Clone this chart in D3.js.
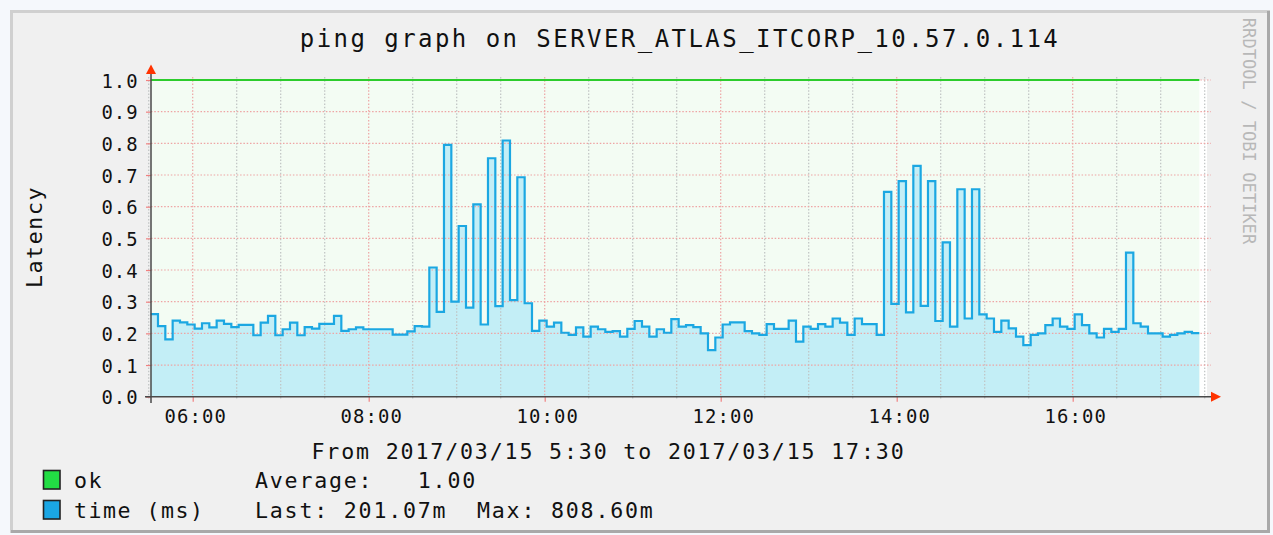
<!DOCTYPE html>
<html><head><meta charset="utf-8">
<script src="https://cdn.jsdelivr.net/npm/d3@7"></script>
<style>
html,body{margin:0;padding:0;background:#f5f8fc;}
svg{display:block;}
text{font-family:"DejaVu Sans Mono",monospace;fill:#111;white-space:pre;}
</style></head><body>
<svg id="c" width="1273" height="535"></svg>
<script>
// ---------- data ----------
const title = "ping graph on SERVER_ATLAS_ITCORP_10.57.0.114";
const xCaption = "From 2017/03/15 5:30 to 2017/03/15 17:30";
const yLabel = "Latency";
const watermark = "RRDTOOL / TOBI OETIKER";
const rangeStart = "2017-03-15T05:30:00";
const rangeEnd = "2017-03-15T17:30:00";
const dataStart = "2017-03-15T05:31:20";
const stepMinutes = 5;
const okValue = 1.0;
const timeValues = [
  0.261,0.223,0.181,0.240,0.235,0.228,0.215,0.232,0.219,0.240,
  0.230,0.220,0.227,0.227,0.194,0.234,0.255,0.194,0.213,0.234,
  0.194,0.220,0.215,0.230,0.230,0.255,0.208,0.213,0.219,0.213,
  0.213,0.213,0.213,0.196,0.196,0.206,0.223,0.221,0.408,0.268,
  0.795,0.300,0.539,0.281,0.607,0.228,0.753,0.286,0.809,0.305,
  0.693,0.295,0.208,0.240,0.221,0.234,0.202,0.195,0.219,0.190,
  0.221,0.213,0.205,0.207,0.190,0.214,0.239,0.221,0.190,0.213,
  0.202,0.245,0.221,0.226,0.220,0.200,0.147,0.187,0.228,0.235,
  0.235,0.207,0.200,0.195,0.229,0.214,0.214,0.240,0.174,0.221,
  0.214,0.229,0.221,0.247,0.234,0.195,0.247,0.229,0.229,0.195,
  0.647,0.293,0.681,0.266,0.729,0.287,0.681,0.239,0.487,0.221,
  0.655,0.247,0.655,0.260,0.247,0.205,0.240,0.216,0.190,0.163,
  0.195,0.200,0.226,0.247,0.221,0.214,0.260,0.226,0.200,0.187,
  0.214,0.205,0.214,0.455,0.232,0.221,0.200,0.200,0.190,0.195,
  0.200,0.205,0.201
];
const yTicks = [0.0,0.1,0.2,0.3,0.4,0.5,0.6,0.7,0.8,0.9,1.0];
const legendNames = ["ok", "time (ms)"];
const legendStats = ["Average:   1.00", "Last: 201.07m  Max: 808.60m"];
const legendColors = ["#22dd44", "#1aa6e4"];

// ---------- setup ----------
const parse = d3.timeParse("%Y-%m-%dT%H:%M:%S");
const t0 = parse(rangeStart), t1 = parse(rangeEnd), ds = parse(dataStart);
const svg = d3.select("#c");

const plotL = 151, plotR = 1207, plotT = 80, plotB = 396.7;
const x = d3.scaleTime().domain([t0, t1]).range([148.7, 1204.7]);
const y = d3.scaleLinear().domain([0, 1]).range([plotB, plotT]);

const series = timeValues.map((v, k) => ({t: d3.timeMinute.offset(ds, k * stepMinutes), v}));
series.push({t: d3.timeMinute.offset(ds, timeValues.length * stepMinutes), v: timeValues[timeValues.length - 1]});
const okSeries = series.map(d => ({t: d.t, v: okValue}));

// frame
svg.append("rect").attr("x", 11.5).attr("y", 11.5).attr("width", 1257).attr("height", 520)
  .attr("fill", "#f0f0f0").attr("stroke", "#d0d0d0").attr("stroke-width", 3);
svg.append("path").attr("d", "M1268.5,11 V531.5 H11").attr("fill", "none")
  .attr("stroke", "#a9a9a9").attr("stroke-width", 3);

// plot canvas
svg.append("rect").attr("x", plotL).attr("y", plotT).attr("width", plotR - plotL).attr("height", plotB - plotT)
  .attr("fill", "#ffffff");

// ok area
svg.append("path").datum(okSeries)
  .attr("d", d3.area().x(d => x(d.t)).y0(y(0)).y1(d => y(d.v)).curve(d3.curveStepAfter))
  .attr("fill", "#f3fcf3");

// time area
svg.append("path").datum(series)
  .attr("d", d3.area().x(d => x(d.t)).y0(y(0)).y1(d => y(d.v)).curve(d3.curveStepAfter))
  .attr("fill", "#c3eef6");

// grid
const minorTimes = x.ticks(d3.timeMinute.every(30)).filter(d => d.getHours() % 2 !== 0 || d.getMinutes() !== 0);
const majorTimes = x.ticks(d3.timeHour.every(2));
const grid = svg.append("g");
grid.selectAll(".vmin").data(minorTimes).join("line")
  .attr("x1", d => x(d)).attr("x2", d => x(d)).attr("y1", plotT - 3).attr("y2", plotB + 2.5)
  .attr("stroke", "#bfc3c3").attr("stroke-width", 1.2).attr("stroke-dasharray", "1.5,1.8");
grid.selectAll(".vmaj").data(majorTimes).join("line")
  .attr("x1", d => x(d)).attr("x2", d => x(d)).attr("y1", plotT - 3).attr("y2", plotB)
  .attr("stroke", "#eea4a4").attr("stroke-width", 1.2).attr("stroke-dasharray", "1.5,1.8");
grid.selectAll(".h").data(yTicks.filter(v => v > 0)).join("line")
  .attr("x1", plotL).attr("x2", 1211).attr("y1", d => y(d)).attr("y2", d => y(d))
  .attr("stroke", "#eea4a4").attr("stroke-width", 1.2).attr("stroke-dasharray", "1.5,1.8");

// series lines
svg.append("path").datum(okSeries)
  .attr("d", d3.line().x(d => x(d.t)).y(d => y(d.v)).curve(d3.curveStepAfter))
  .attr("fill", "none").attr("stroke", "#2ccc2c").attr("stroke-width", 2);
svg.append("path").datum(series)
  .attr("d", d3.line().x(d => x(d.t)).y(d => y(d.v)).curve(d3.curveStepAfter))
  .attr("fill", "none").attr("stroke", "#1ba7e2").attr("stroke-width", 2.2);

// axes
const xAxis = svg.append("g").attr("transform", `translate(0,${plotB})`)
  .call(d3.axisBottom(x).ticks(d3.timeHour.every(2)).tickFormat(d3.timeFormat("%H:%M")).tickSize(5));
xAxis.select(".domain").remove();
xAxis.selectAll(".tick line").attr("stroke", "#f08080").attr("stroke-width", 1.2);
xAxis.selectAll(".tick text").attr("y", 26.6).attr("dy", 0).attr("dx", 2.5)
  .style("font-family", "DejaVu Sans Mono").style("font-size", "18.9px").style("letter-spacing", "1.1px").attr("fill", "#111");

const yAxis = svg.append("g").attr("transform", `translate(${plotL},0)`)
  .call(d3.axisLeft(y).tickValues(yTicks).tickFormat(d3.format(".1f")).tickSize(5));
yAxis.select(".domain").remove();
yAxis.selectAll(".tick line").attr("stroke", "#f08080").attr("stroke-width", 1.2);
yAxis.selectAll(".tick text").attr("x", -12.2).attr("dy", 7)
  .style("font-family", "DejaVu Sans Mono").style("font-size", "18.9px").style("letter-spacing", "1.1px").attr("fill", "#111");

// axis lines + arrows
svg.append("line").attr("x1", 145).attr("x2", 1213).attr("y1", plotB).attr("y2", plotB)
  .attr("stroke", "#4a4a4a").attr("stroke-width", 1.5);
svg.append("line").attr("x1", plotL).attr("x2", plotL).attr("y1", 403).attr("y2", 72)
  .attr("stroke", "#4a4a4a").attr("stroke-width", 1.5);
svg.append("path").attr("d", `M1221,${plotB} L1211,${plotB - 5} L1211,${plotB + 5} Z`).attr("fill", "#ff3300");
svg.append("path").attr("d", `M${plotL},64.5 L${plotL - 5},74 L${plotL + 5},74 Z`).attr("fill", "#ff3300");

// title & labels
svg.append("text").attr("x", 680).attr("y", 47).attr("text-anchor", "middle")
  .style("font-size", "24px").style("letter-spacing", "2.45px").text(title);
svg.append("text").attr("x", 608.5).attr("y", 458.5).attr("text-anchor", "middle")
  .style("font-size", "21.6px").style("letter-spacing", "1.85px").text(xCaption);
svg.append("text").attr("transform", "translate(42,237) rotate(-90)").attr("text-anchor", "middle")
  .style("font-size", "21.6px").style("letter-spacing", "1.6px").text(yLabel);
svg.append("text").attr("transform", "translate(1243,131) rotate(90) scale(0.95,1)").attr("text-anchor", "middle")
  .style("font-size", "18px").style("fill", "#b8b8b8").text(watermark);

// legend
const leg = svg.append("g");
legendNames.forEach((name, i) => {
  const by = 470.5 + i * 30;
  leg.append("rect").attr("x", 43.5).attr("y", by).attr("width", 16.5).attr("height", 18.5)
    .attr("fill", legendColors[i]).attr("stroke", "#222").attr("stroke-width", 1.6);
  leg.append("text").attr("x", 74).attr("y", 488.3 + i * 30)
    .style("font-size", "21.6px").style("letter-spacing", "1.5px").text(name);
  leg.append("text").attr("x", 255).attr("y", 488.3 + i * 30)
    .style("font-size", "21.6px").style("letter-spacing", "1.8px").text(legendStats[i]);
});
</script>
</body></html>
